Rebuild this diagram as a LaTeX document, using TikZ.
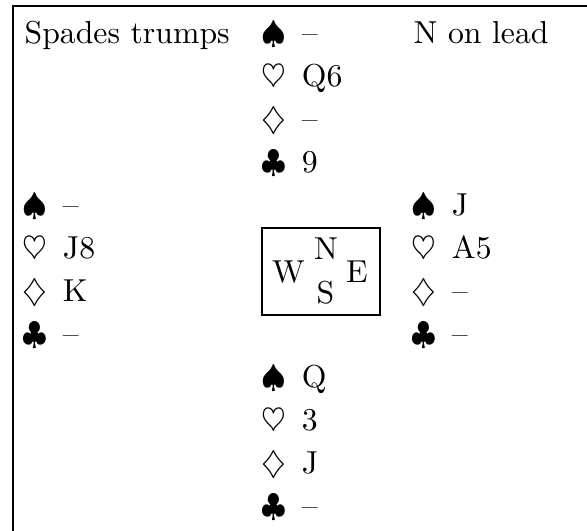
\documentclass[tikz,border=0pt]{standalone}
\usepackage{amsmath,amssymb}
\usepackage{tikz}
\usetikzlibrary{positioning}

\newcommand{\hold}[2]{\makebox[12.7pt][l]{$#1$}#2}

\begin{document}
\begin{tikzpicture}[
    x=0.315pt, y=-0.315pt,
    hand/.style={anchor=base west, inner sep=0pt, font=\normalsize},
    seat/.style={anchor=base, inner sep=0pt, font=\normalsize}
]
\useasboundingbox (0,0) rectangle (587,531);
\draw (587,6) -| (13,531);

\node[hand] (trumps) at (24, 44) {Spades trumps};
\node[hand] (lead) at (413, 44) {N on lead};

% North
\node[hand] (ns) at (261, 44) {\hold{\spadesuit}{--}};
\node[hand] (nh) at (261, 87) {\hold{\heartsuit}{Q6}};
\node[hand] (nd) at (261, 130) {\hold{\diamondsuit}{--}};
\node[hand] (nc) at (261, 173) {\hold{\clubsuit}{9}};

% West
\node[hand] (ws) at (22, 216) {\hold{\spadesuit}{--}};
\node[hand] (wh) at (22, 259) {\hold{\heartsuit}{J8}};
\node[hand] (wd) at (22, 302) {\hold{\diamondsuit}{K}};
\node[hand] (wc) at (22, 345) {\hold{\clubsuit}{--}};

% East
\node[hand] (es) at (411, 216) {\hold{\spadesuit}{J}};
\node[hand] (eh) at (411, 259) {\hold{\heartsuit}{A5}};
\node[hand] (ed) at (411, 302) {\hold{\diamondsuit}{--}};
\node[hand] (ec) at (411, 345) {\hold{\clubsuit}{--}};

% South
\node[hand] (ss) at (261, 388) {\hold{\spadesuit}{Q}};
\node[hand] (sh) at (261, 431) {\hold{\heartsuit}{3}};
\node[hand] (sd) at (261, 474) {\hold{\diamondsuit}{J}};
\node[hand] (sc) at (261, 517) {\hold{\clubsuit}{--}};

% compass
\node[draw, minimum width=37.2pt, minimum height=27.4pt, inner sep=0pt] (compass) at (321, 271.5) {};
\node[seat] (sw) at (288.5, 283) {W};
\node[seat] (sn) at (326, 260) {N};
\node[seat] (so) at (325.5, 304) {S};
\node[seat] (se) at (357, 283) {E};
\end{tikzpicture}
\end{document}
